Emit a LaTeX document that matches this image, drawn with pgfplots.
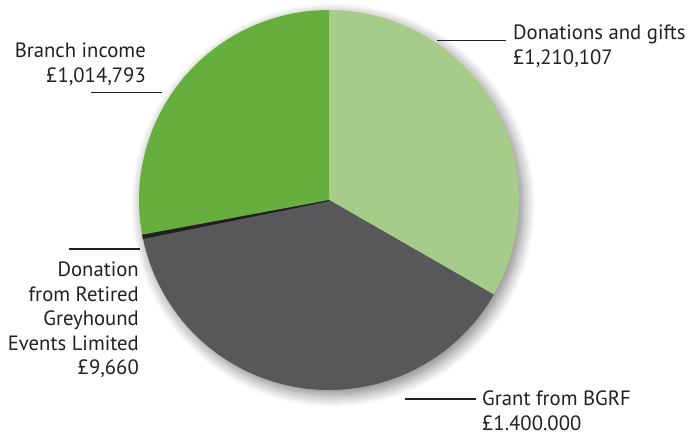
\documentclass[border=0pt]{standalone}
\usepackage{pgfplots}
\pgfplotsset{compat=1.18}
\usepackage{pgfplotstable}
\usepackage{fontspec}
\setmainfont{PT Sans}
\usetikzlibrary{shadows.blur}

\definecolor{donat}{HTML}{A6CC89}
\definecolor{branch}{HTML}{66AF3F}
\definecolor{grant}{HTML}{58585A}
\definecolor{retired}{HTML}{231F20}
\definecolor{txt}{HTML}{231F20}

% values in thousands of pounds
\pgfplotstableread{
label     value
Donations 1210.107
Grant     1400.000
Retired   9.660
Branch    1014.793
}\piedata

\begin{document}
\begin{tikzpicture}
\pgfplotstablegetelem{0}{value}\of\piedata \let\va\pgfplotsretval
\pgfplotstablegetelem{1}{value}\of\piedata \let\vb\pgfplotsretval
\pgfplotstablegetelem{2}{value}\of\piedata \let\vc\pgfplotsretval
\pgfplotstablegetelem{3}{value}\of\piedata \let\vd\pgfplotsretval
\pgfmathsetmacro\tot{\va+\vb+\vc+\vd}
\pgfmathsetmacro\aA{90-360*(\va/\tot)}
\pgfmathsetmacro\aB{\aA-360*(\vb/\tot)}
\pgfmathsetmacro\aC{\aB-360*(\vc/\tot)}
\begin{axis}[
    width=688bp, height=434bp, scale only axis,
    xmin=0, xmax=688, ymin=0, ymax=434,
    hide axis, clip=false,
    font=\fontsize{20.7bp}{24.5bp}\selectfont,
]
  % shadow
  \fill[black, opacity=0.0, blur shadow={shadow xshift=4bp, shadow yshift=-5bp,
        shadow blur radius=12bp, shadow blur steps=12, shadow opacity=50}]
        (axis cs:329,234) circle[radius=190bp];
  \fill[donat] (axis cs:329,234) -- ++(90:190bp)
        arc[start angle=90, end angle=\aA, radius=190bp] -- cycle;
  \fill[grant] (axis cs:329,234) -- ++(\aA:190bp)
        arc[start angle=\aA, end angle=\aB, radius=190bp] -- cycle;
  \filldraw[retired, line width=2.4bp, line join=miter] (axis cs:329,234) -- ++(\aB:189bp)
        arc[start angle=\aB, end angle=\aC, radius=189bp] -- cycle;
  \fill[branch] (axis cs:329,234) -- ++(\aC:190bp)
        arc[start angle=\aC, end angle=-270, radius=190bp] -- cycle;

  % leader lines
  \draw[txt, line width=1.2bp] (axis cs:437,393.5) -- (axis cs:506,393.5);
  \draw[txt, line width=1.2bp] (axis cs:91,341.5) -- (axis cs:162,341.5);
  \draw[txt, line width=1.2bp] (axis cs:69,185) -- (axis cs:140,185);
  \draw[txt, line width=1.2bp] (axis cs:405,35) -- (axis cs:476,35);

  % labels
  \node[txt, anchor=north west, align=left, inner sep=0pt]
      at (axis cs:513,409) {Donations and gifts\\£1,210,107};
  \node[txt, anchor=north east, align=right, inner sep=0pt]
      at (axis cs:146,391) {Branch income\\£1,014,793};
  \node[txt, anchor=north east, align=right, inner sep=0pt]
      at (axis cs:139,172) {Donation\\from Retired\\Greyhound\\Events Limited\\£9,660};
  \node[txt, anchor=north west, align=left, inner sep=0pt]
      at (axis cs:482,43) {Grant from BGRF\\£1.400.000};
\end{axis}
\pgfresetboundingbox
\path (0,0) rectangle (688bp,434bp);
\end{tikzpicture}
\end{document}
